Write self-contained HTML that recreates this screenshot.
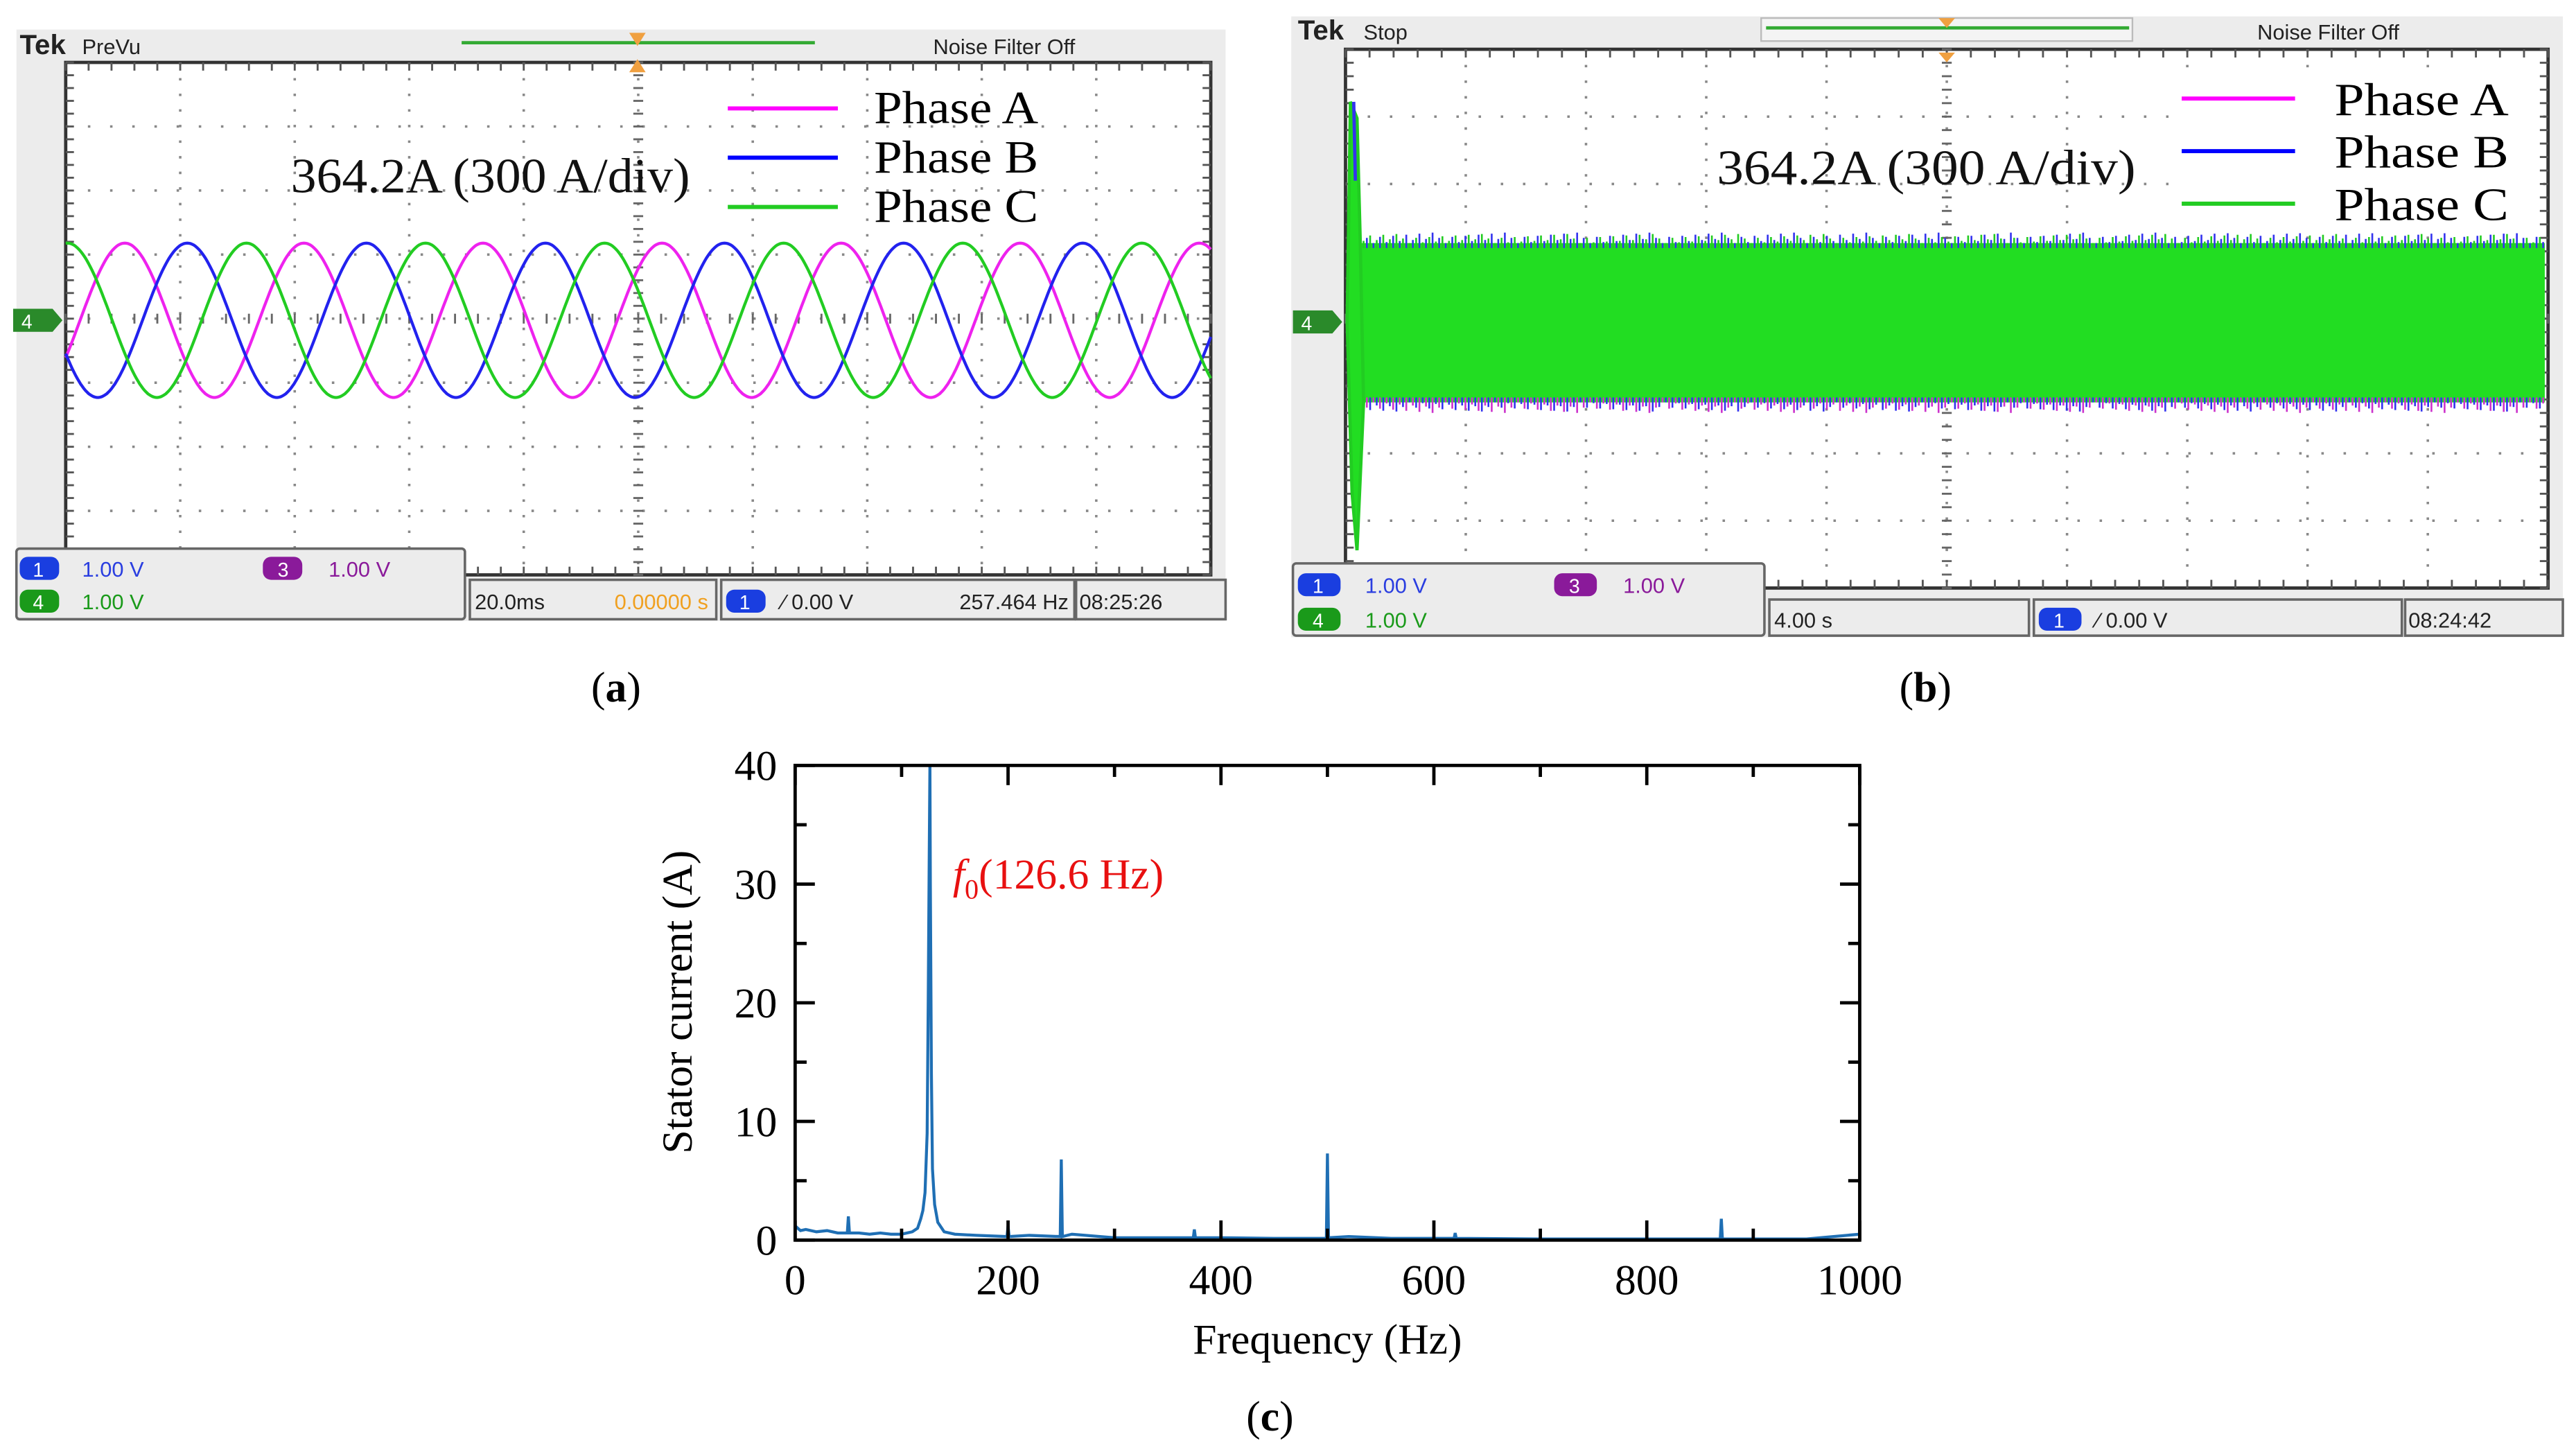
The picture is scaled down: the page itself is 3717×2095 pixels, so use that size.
<!DOCTYPE html>
<html><head><meta charset="utf-8"><style>
html,body{margin:0;padding:0;background:#fff;}
svg{display:block;}
.sc{font-family:"Liberation Sans Narrow","Liberation Sans",sans-serif;}
.sr{font-family:"Liberation Serif",serif;}
</style></head><body>
<svg id="root" width="3717" height="2095" viewBox="0 0 1568 884" preserveAspectRatio="none" xmlns="http://www.w3.org/2000/svg">
<rect x="0" y="0" width="1568" height="884" fill="#fff"/>

<!-- Panel A -->
<g id="pa">
  <rect x="10" y="18" width="736" height="360" fill="#ececec"/>
  <rect x="40" y="38" width="697" height="312" fill="#fff" stroke="#333" stroke-width="2"/>
  <g id="gridA"></g>
  <text class="sc" x="12" y="33" font-size="17" font-weight="bold" fill="#222">Tek</text>
  <text class="sc" x="50" y="33" font-size="13" fill="#222">PreVu</text>
  <line x1="281" y1="26" x2="496" y2="26" stroke="#3a3" stroke-width="2"/>
  <text class="sc" x="568" y="33" font-size="13" fill="#222">Noise Filter Off</text>
  <path d="M383 20 L393 20 L388 28 Z M383 44 L393 44 L388 36 Z" fill="#f0a040"/>
  <path d="M8 188 L32 188 L38 195 L32 202 L8 202 Z" fill="#2a8a2a"/>
  <text class="sc" x="13" y="200" font-size="12" fill="#fff">4</text>
  <g id="wavesA"></g>
  <text class="sr" x="177" y="117" font-size="30" textLength="243" lengthAdjust="spacingAndGlyphs" fill="#111">364.2A (300 A/div)</text>
  <g>
    <line x1="443" y1="66" x2="510" y2="66" stroke="#f0f" stroke-width="2.5"/>
    <line x1="443" y1="96" x2="510" y2="96" stroke="#00f" stroke-width="2.5"/>
    <line x1="443" y1="126" x2="510" y2="126" stroke="#2c2" stroke-width="2.5"/>
    <text class="sr" x="532" y="75" font-size="28" textLength="100" lengthAdjust="spacingAndGlyphs">Phase A</text>
    <text class="sr" x="532" y="105" font-size="28" textLength="100" lengthAdjust="spacingAndGlyphs">Phase B</text>
    <text class="sr" x="532" y="135" font-size="28" textLength="100" lengthAdjust="spacingAndGlyphs">Phase C</text>
  </g>
  <g>
    <rect x="10" y="334" width="273" height="43" fill="#ececec" stroke="#666" stroke-width="1.5" rx="2"/>
    <rect x="12" y="339" width="24" height="14" rx="5" fill="#1a3ee0"/><text class="sc" x="20" y="351" font-size="12" fill="#fff">1</text>
    <text class="sc" x="50" y="351" font-size="13" fill="#2a3ee0">1.00 V</text>
    <rect x="160" y="339" width="24" height="14" rx="5" fill="#8a1a9a"/><text class="sc" x="169" y="351" font-size="12" fill="#fff">3</text>
    <text class="sc" x="200" y="351" font-size="13" fill="#8a1a9a">1.00 V</text>
    <rect x="12" y="359" width="24" height="14" rx="5" fill="#1a9a1a"/><text class="sc" x="20" y="371" font-size="12" fill="#fff">4</text>
    <text class="sc" x="50" y="371" font-size="13" fill="#1a9a1a">1.00 V</text>
    <rect x="286" y="353" width="150" height="24" fill="#ececec" stroke="#666" stroke-width="1.5"/>
    <text class="sc" x="289" y="371" font-size="13" fill="#222">20.0ms</text>
    <text class="sc" x="374" y="371" font-size="13" fill="#f0a020">0.00000 s</text>
    <rect x="439" y="353" width="215" height="24" fill="#ececec" stroke="#666" stroke-width="1.5"/>
    <rect x="442" y="359" width="24" height="14" rx="5" fill="#1a3ee0"/><text class="sc" x="450" y="371" font-size="12" fill="#fff">1</text>
    <text class="sc" x="476" y="371" font-size="13" fill="#222">⁄ 0.00 V</text>
    <text class="sc" x="584" y="371" font-size="13" fill="#222">257.464 Hz</text>
    <rect x="655" y="353" width="91" height="24" fill="#ececec" stroke="#666" stroke-width="1.5"/>
    <text class="sc" x="657" y="371" font-size="13" fill="#222">08:25:26</text>
  </g>
</g>

<!-- Panel B -->
<g id="pb">
  <rect x="786" y="10" width="774" height="378" fill="#ececec"/>
  <rect x="819" y="30" width="732" height="328" fill="#fff" stroke="#333" stroke-width="2"/>
  <g id="gridB"></g>
  <text class="sc" x="790" y="24" font-size="17" font-weight="bold" fill="#222">Tek</text>
  <text class="sc" x="830" y="24" font-size="13" fill="#222">Stop</text>
  <rect x="1072" y="11" width="226" height="14" fill="#f4f4f4" stroke="#bbb"/>
  <line x1="1075" y1="17" x2="1296" y2="17" stroke="#3a3" stroke-width="2"/>
  <text class="sc" x="1374" y="24" font-size="13" fill="#222">Noise Filter Off</text>
  <path d="M1180 11 L1190 11 L1185 17 Z M1180 32 L1190 32 L1185 38 Z" fill="#f0a040"/>
  <path d="M787 189 L811 189 L817 196 L811 203 L787 203 Z" fill="#2a8a2a"/>
  <text class="sc" x="792" y="201" font-size="12" fill="#fff">4</text>
  <g id="bandB"></g>
  <text class="sr" x="1045" y="112" font-size="30" textLength="255" lengthAdjust="spacingAndGlyphs" fill="#111">364.2A (300 A/div)</text>
  <g>
    <rect x="1320" y="42" width="220" height="100" fill="#fff"/>
    <line x1="1328" y1="60" x2="1397" y2="60" stroke="#f0f" stroke-width="2.5"/>
    <line x1="1328" y1="92" x2="1397" y2="92" stroke="#00f" stroke-width="2.5"/>
    <line x1="1328" y1="124" x2="1397" y2="124" stroke="#2c2" stroke-width="2.5"/>
    <text class="sr" x="1421" y="70" font-size="28" textLength="106" lengthAdjust="spacingAndGlyphs">Phase A</text>
    <text class="sr" x="1421" y="102" font-size="28" textLength="106" lengthAdjust="spacingAndGlyphs">Phase B</text>
    <text class="sr" x="1421" y="134" font-size="28" textLength="106" lengthAdjust="spacingAndGlyphs">Phase C</text>
  </g>
  <g>
    <rect x="787" y="343" width="287" height="44" fill="#ececec" stroke="#666" stroke-width="1.5" rx="2"/>
    <rect x="790" y="349" width="26" height="14" rx="5" fill="#1a3ee0"/><text class="sc" x="799" y="361" font-size="12" fill="#fff">1</text>
    <text class="sc" x="831" y="361" font-size="13" fill="#2a3ee0">1.00 V</text>
    <rect x="946" y="349" width="26" height="14" rx="5" fill="#8a1a9a"/><text class="sc" x="955" y="361" font-size="12" fill="#fff">3</text>
    <text class="sc" x="988" y="361" font-size="13" fill="#8a1a9a">1.00 V</text>
    <rect x="790" y="370" width="26" height="14" rx="5" fill="#1a9a1a"/><text class="sc" x="799" y="382" font-size="12" fill="#fff">4</text>
    <text class="sc" x="831" y="382" font-size="13" fill="#1a9a1a">1.00 V</text>
    <rect x="1077" y="365" width="158" height="22" fill="#ececec" stroke="#666" stroke-width="1.5"/>
    <text class="sc" x="1080" y="382" font-size="13" fill="#222">4.00 s</text>
    <rect x="1238" y="365" width="224" height="22" fill="#ececec" stroke="#666" stroke-width="1.5"/>
    <rect x="1241" y="370" width="26" height="14" rx="5" fill="#1a3ee0"/><text class="sc" x="1250" y="382" font-size="12" fill="#fff">1</text>
    <text class="sc" x="1276" y="382" font-size="13" fill="#222">⁄ 0.00 V</text>
    <rect x="1464" y="365" width="96" height="22" fill="#ececec" stroke="#666" stroke-width="1.5"/>
    <text class="sc" x="1466" y="382" font-size="13" fill="#222">08:24:42</text>
  </g>
</g>

<text class="sr" x="375" y="427" font-size="26" text-anchor="middle">(<tspan font-weight="bold">a</tspan>)</text>
<text class="sr" x="1172" y="427" font-size="26" text-anchor="middle">(<tspan font-weight="bold">b</tspan>)</text>
<text class="sr" x="773" y="871" font-size="26" text-anchor="middle">(<tspan font-weight="bold">c</tspan>)</text>

<!-- Panel C -->
<g id="pc">
  <g id="specLine"></g>
  <rect x="484" y="466" width="648" height="289" fill="none" stroke="#000" stroke-width="2"/>
  <g id="axesC"></g>
  <text class="sr" x="808" y="824" font-size="26" text-anchor="middle">Frequency (Hz)</text>
  <text class="sr" x="0" y="0" font-size="26" text-anchor="middle" transform="translate(421,610) rotate(-90)">Stator current (A)</text>
  <text class="sr" x="580" y="541" font-size="26" fill="#e81010"><tspan font-style="italic">f</tspan><tspan font-size="17" dy="6">0</tspan><tspan dy="-6">(126.6 Hz)</tspan></text>
</g>
</svg>
<script>
// ---- Panel C data ----
const xTicks = [0, 200, 400, 600, 800, 1000];
const yTicks = [0, 10, 20, 30, 40];
const specFreq = [0,5,10,20,30,40,49,50,51,60,70,80,90,100,110,115,118,120,122,124,125,126,126.6,127,128,129,131,134,140,150,170,199,200,201,220,249,250,251,260,300,350,374,375,376,400,450,499,500,501,520,560,600,619,620,621,700,750,800,869,870,871,900,950,1000];
const specAmp  = [1.2,0.8,0.9,0.7,0.8,0.6,0.6,2.0,0.6,0.6,0.5,0.6,0.5,0.5,0.7,1.0,1.8,2.5,4,9,20,33,40,30,14,6,3,1.5,0.7,0.5,0.4,0.3,1.2,0.3,0.4,0.3,6.8,0.3,0.5,0.2,0.2,0.2,0.9,0.2,0.2,0.15,0.15,7.3,0.2,0.3,0.15,0.15,0.15,0.6,0.15,0.1,0.1,0.1,0.1,1.8,0.1,0.1,0.1,0.5];
// ---- Panel A data ----
const phaseNames = ['A','B','C'];
const phaseColors = ['#ee22ee','#2222ee','#22cc22'];
const phasePeakX = [76, 114, 150];
const wavePeriod = [109];
const waveAmp = [47, 47, 47];
// ---- Panel B data ----
const bandTop = [148];
const bandBottom = [245];
const transientTop = [62];
const transientBottom = [335];

const NS='http://www.w3.org/2000/svg';
function mk(tag, attrs, parent){const e=document.createElementNS(NS,tag);for(const k in attrs)e.setAttribute(k,attrs[k]);parent.appendChild(e);return e;}

function grid(g,x0,y0,w,h,nx,ny){
  for(let i=1;i<nx;i++){const x=x0+w*i/nx;mk('line',{x1:x,y1:y0,x2:x,y2:y0+h,stroke:'#888','stroke-width':1.5,'stroke-dasharray':'1.5 8'},g);}
  for(let j=1;j<ny;j++){const y=y0+h*j/ny;mk('line',{x1:x0,y1:y,x2:x0+w,y2:y,stroke:'#888','stroke-width':1.5,'stroke-dasharray':'1.5 12'},g);}
  const cx=x0+w/2, cy=y0+h/2;
  for(let i=0;i<=nx*5;i++){const x=x0+w*i/(nx*5);mk('line',{x1:x,y1:y0,x2:x,y2:y0+5,stroke:'#555','stroke-width':1.2},g);mk('line',{x1:x,y1:y0+h-5,x2:x,y2:y0+h,stroke:'#555','stroke-width':1.2},g);mk('line',{x1:x,y1:cy-3,x2:x,y2:cy+3,stroke:'#666','stroke-width':1.2},g);}
  for(let j=0;j<=ny*5;j++){const y=y0+h*j/(ny*5);mk('line',{x1:x0,y1:y,x2:x0+5,y2:y,stroke:'#555','stroke-width':1.2},g);mk('line',{x1:x0+w-5,y1:y,x2:x0+w,y2:y,stroke:'#555','stroke-width':1.2},g);mk('line',{x1:cx-3,y1:y,x2:cx+3,y2:y,stroke:'#666','stroke-width':1.2},g);}
}
grid(document.getElementById('gridA'),40,38,697,312,10,8);
grid(document.getElementById('gridB'),819,30,732,328,10,8);

const wA=document.getElementById('wavesA');
const ax0=40, ax1=737, acy=195;
phaseNames.forEach((n,k)=>{
  let d='';
  for(let x=ax0;x<=ax1;x+=1){
    const y=acy-waveAmp[k]*Math.cos(2*Math.PI*(x-phasePeakX[k])/wavePeriod[0]);
    d+=(x===ax0?'M':'L')+x+' '+y.toFixed(1);
  }
  const p=mk('path',{d:d,fill:'none',stroke:phaseColors[k],'stroke-width':1.8},wA);
  
  
});

const bB=document.getElementById('bandB');
const bx0=826, bx1=1549;
const band=mk('rect',{x:bx0,y:bandTop[0],width:bx1-bx0,height:bandBottom[0]-bandTop[0],fill:'#22dd22'},bB);


let dt='',db='',dt2='',db2='';
for(let x=bx0;x<=bx1;x+=2){
  const o=((x*7)%11)/11*7;
  const o2=((x*5)%13)/13*6;
  if(x%4===0){dt+=`M${x} ${bandTop[0]+3} L${x} ${bandTop[0]-o}`;db+=`M${x} ${bandBottom[0]-3} L${x} ${bandBottom[0]+o}`;}
  else{dt2+=`M${x} ${bandTop[0]+3} L${x} ${bandTop[0]-o2}`;db2+=`M${x} ${bandBottom[0]-3} L${x} ${bandBottom[0]+o2}`;}
}
mk('path',{d:dt,stroke:'#3333ee','stroke-width':1.1},bB);
mk('path',{d:dt2,stroke:'#22cc22','stroke-width':1.1},bB);
mk('path',{d:db,stroke:'#cc33cc','stroke-width':1.1},bB);
mk('path',{d:db2,stroke:'#3333ee','stroke-width':1.1},bB);
const tr=mk('path',{d:`M820 196 L822 ${transientTop[0]} L826 ${transientTop[0]+10} L828 ${bandTop[0]} L830 ${bandBottom[0]} L826 ${transientBottom[0]} L823 300 L820 196 Z`,fill:'#22dd22',stroke:'#22cc22','stroke-width':2},bB);


mk('line',{x1:824,y1:transientTop[0],x2:825,y2:110,stroke:'#3333ee','stroke-width':2},bB);

const px0=484, px1=1132, py0=755, py1=466;
const X=f=>px0+(f-0)/(1000-0)*(px1-px0);
const Y=v=>py0-(v-0)/(40-0)*(py0-py1);
const axg=document.getElementById('axesC');
for(let f=0;f<=1000;f+=100){
  const big=f%200===0, len=big?12:7;
  mk('line',{x1:X(f),y1:py0,x2:X(f),y2:py0-len,stroke:'#000','stroke-width':2},axg);
  mk('line',{x1:X(f),y1:py1,x2:X(f),y2:py1+len,stroke:'#000','stroke-width':2},axg);
}
for(let v=0;v<=40;v+=5){
  const big=v%10===0, len=big?12:7;
  mk('line',{x1:px0,y1:Y(v),x2:px0+len,y2:Y(v),stroke:'#000','stroke-width':2},axg);
  mk('line',{x1:px1,y1:Y(v),x2:px1-len,y2:Y(v),stroke:'#000','stroke-width':2},axg);
}
xTicks.forEach(f=>{const t=mk('text',{x:X(f),y:788,'font-size':26,'text-anchor':'middle','font-family':'Liberation Serif, serif'},axg);t.textContent=f;
  
  });
yTicks.forEach(v=>{const t=mk('text',{x:473,y:Y(v)+9,'font-size':26,'text-anchor':'end','font-family':'Liberation Serif, serif'},axg);t.textContent=v;
  
  });
let sd='';
specFreq.forEach((f,i)=>{sd+=(i?'L':'M')+X(f).toFixed(2)+' '+Y(specAmp[i]).toFixed(2);});
const sp=mk('path',{d:sd,fill:'none',stroke:'#1f6fb4','stroke-width':1.8},document.getElementById('specLine'));


</script>
</body></html>
